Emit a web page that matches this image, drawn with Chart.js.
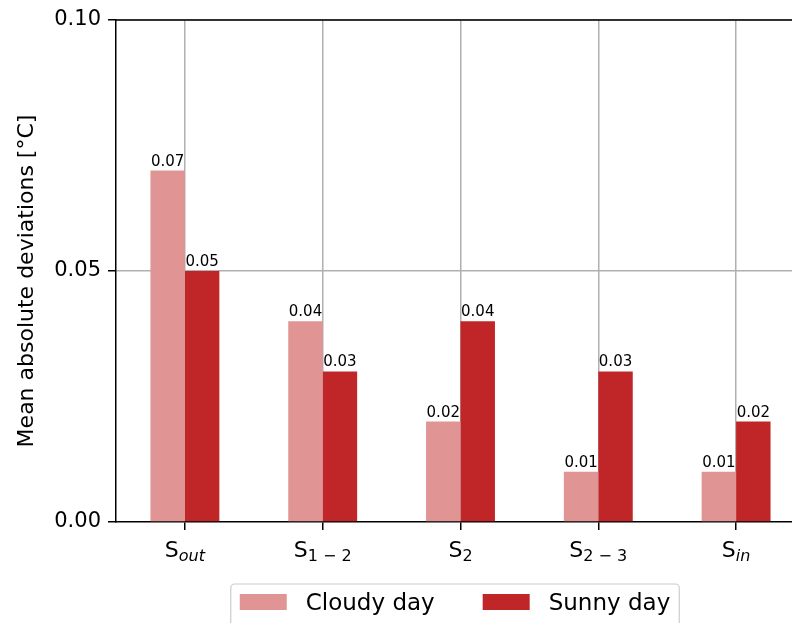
<!DOCTYPE html>
<html>
<head>
<meta charset="utf-8">
<script src="https://cdn.jsdelivr.net/npm/chart.js@4.4.0/dist/chart.umd.min.js"></script>
<style>
  html, body { margin: 0; padding: 0; background: #fff; overflow: hidden; }
  #wrap { position: relative; width: 830px; height: 623px; }
</style>
</head>
<body>
<div id="wrap"><canvas id="myChart"></canvas></div>
<script>
// categories: main letter + subscript
const categories = ['S_out', 'S_1 \u2212 2', 'S_2', 'S_2 \u2212 3', 'S_in'];
const italicSubs = [true, false, false, false, true];
const cloudyDay = [0.07, 0.04, 0.02, 0.01, 0.01];
const sunnyDay = [0.05, 0.03, 0.04, 0.03, 0.02];
const yTicks = [0, 0.05, 0.10];
const yTitle = 'Mean absolute deviations [\u00B0C]';

const FONT = "'DejaVu Sans', sans-serif";

/* value labels, tick labels with subscripts, axis title, spines and legend */
const extras = {
    id: 'extras',
    afterDraw(chart) {
        const ctx = chart.ctx;
        const area = chart.chartArea;
        const xs = chart.scales.x;
        ctx.save();

        // top + right spine
        ctx.strokeStyle = '#000';
        ctx.lineWidth = 1.5;
        ctx.beginPath();
        ctx.moveTo(area.left, area.top);
        ctx.lineTo(area.right, area.top);
        ctx.lineTo(area.right, area.bottom);
        ctx.stroke();

        // y title
        ctx.save();
        ctx.translate(27, 281);
        ctx.rotate(-Math.PI / 2);
        ctx.font = '22px ' + FONT;
        ctx.fillStyle = '#000';
        ctx.textAlign = 'center';
        ctx.textBaseline = 'middle';
        ctx.fillText(yTitle, 0, 0);
        ctx.restore();

        // value labels
        ctx.fillStyle = '#000';
        ctx.font = '15px ' + FONT;
        ctx.textAlign = 'center';
        ctx.textBaseline = 'alphabetic';
        chart.data.datasets.forEach((ds, di) => {
            chart.getDatasetMeta(di).data.forEach((bar, i) => {
                ctx.fillText(ds.data[i].toFixed(2), bar.x, bar.y - 5);
            });
        });

        // x tick labels
        ctx.textAlign = 'left';
        categories.forEach((lab, i) => {
            const parts = lab.split('_');
            const x = xs.getPixelForValue(i);
            const mainFont = '22px ' + FONT;
            const subFont = (italicSubs[i] ? 'italic ' : '') + '16px ' + FONT;
            ctx.font = mainFont;
            const w1 = ctx.measureText(parts[0]).width;
            ctx.font = subFont;
            const w2 = ctx.measureText(parts[1]).width;
            const x0 = x - (w1 + w2) / 2;
            ctx.font = mainFont;
            ctx.fillText(parts[0], x0, 557);
            ctx.font = subFont;
            ctx.fillText(parts[1], x0 + w1, 561);
        });

        // legend
        const items = chart.data.datasets.map(ds => ({ text: ds.label, color: ds.backgroundColor }));
        ctx.font = '23px ' + FONT;
        const patchW = 47, gap = 19, spacing = 48, pad = 9;
        let total = pad * 2;
        items.forEach((it, k) => {
            it.w = ctx.measureText(it.text).width;
            total += patchW + gap + it.w + (k > 0 ? spacing : 0);
        });
        const cx = 455;
        let lx = cx - total / 2;
        const top = 584;
        ctx.strokeStyle = '#cccccc';
        ctx.lineWidth = 1.2;
        ctx.beginPath();
        ctx.roundRect(lx, top, total, 60, 4);
        ctx.fillStyle = 'rgba(255,255,255,0.8)';
        ctx.fill();
        ctx.stroke();
        let px = lx + pad;
        ctx.textBaseline = 'alphabetic';
        items.forEach((it, k) => {
            if (k > 0) px += spacing;
            ctx.fillStyle = it.color;
            ctx.fillRect(px, top + 10, patchW, 16);
            ctx.fillStyle = '#000';
            ctx.fillText(it.text, px + patchW + gap, top + 26);
            px += patchW + gap + it.w;
        });

        ctx.restore();
    }
};

const ctx1 = document.getElementById('myChart').getContext('2d');
const myChart = new Chart(ctx1, {
    type: 'bar',
    data: {
        labels: categories,
        datasets: [
            {
                label: 'Cloudy day',
                data: cloudyDay,
                backgroundColor: 'rgb(225, 148, 148)',
                categoryPercentage: 0.5,
                barPercentage: 1.0,
                borderWidth: 0
            },
            {
                label: 'Sunny day',
                data: sunnyDay,
                backgroundColor: 'rgb(192, 37, 40)',
                categoryPercentage: 0.5,
                barPercentage: 1.0,
                borderWidth: 0
            }
        ]
    },
    options: {
        responsive: true,
        maintainAspectRatio: false,
        animation: false,
        layout: {
            padding: { top: 20, right: 25, left: 0, bottom: 0 }
        },
        plugins: {
            legend: { display: false },
            tooltip: { enabled: false }
        },
        scales: {
            x: {
                z: 1,
                grid: {
                    offset: false,
                    color: '#b0b0b0',
                    lineWidth: 1.5,
                    tickColor: '#000',
                    tickLength: 8
                },
                border: { color: '#000', width: 1.5 },
                ticks: { display: false },
                afterFit(scale) { scale.height = 101; }
            },
            y: {
                z: 1,
                min: 0,
                max: 0.1,
                afterBuildTicks(scale) {
                    scale.ticks = yTicks.map(v => ({ value: v }));
                },
                grid: {
                    color: c => (c.tick && c.tick.value === 0) ? 'rgba(0,0,0,0)' : '#b0b0b0',
                    lineWidth: 1.5,
                    tickColor: '#000',
                    tickLength: 8
                },
                border: { color: '#000', width: 1.5 },
                ticks: {
                    color: '#000',
                    font: { family: FONT, size: 21 },
                    padding: 7,
                    callback: v => v.toFixed(2)
                },
                title: { display: false },
                afterFit(scale) { scale.width = 116; }
            }
        }
    },
    plugins: [extras]
});
</script>
</body>
</html>
